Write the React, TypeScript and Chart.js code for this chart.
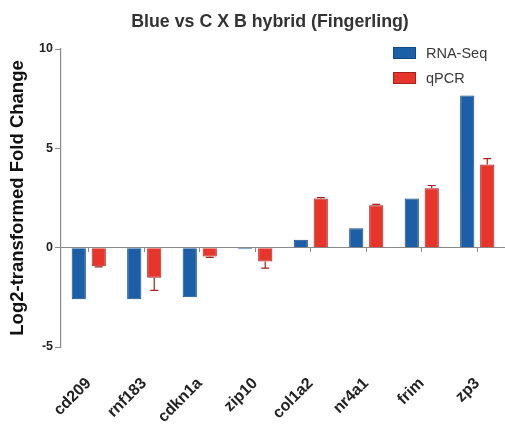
import React, { useEffect, useRef } from 'react';
import { Chart, registerables } from 'chart.js';

Chart.register(...registerables);

// Labels and data
const chartTitle = 'Blue vs C X B hybrid (Fingerling)';
const yAxisTitle = 'Log2-transformed Fold Change';
const genes = ['cd209', 'rnf183', 'cdkn1a', 'zip10', 'col1a2', 'nr4a1', 'frim', 'zp3'];
const seriesNames = ['RNA-Seq', 'qPCR'];
const rnaSeqValues = [-2.6, -2.6, -2.5, -0.08, 0.4, 0.98, 2.48, 7.66];
const qpcrValues = [-0.93, -1.52, -0.45, -0.7, 2.47, 2.14, 2.99, 4.18];
const qpcrErrors = [0.04, 0.63, 0.04, 0.33, 0.05, 0.04, 0.14, 0.3];
const yMin = -5;
const yMax = 10;
const yStep = 5;

const BLUE = '#1d5fa7';
const BLUE_EDGE = '#124a86';
const RED = '#e8352c';
const RED_EDGE = '#a3231d';
const AXIS = '#8a8a8a';
const FONT = "'Liberation Sans', Arial, Helvetica, sans-serif";

// Draws one-sided error bars (away from zero) with caps
const errorBarPlugin = {
  id: 'errorBars',
  afterDatasetsDraw(chart: any) {
    const ctx = chart.ctx;
    const yScale = chart.scales.y;
    chart.data.datasets.forEach((ds: any, di: number) => {
      const errs: number[] | undefined = ds.errors;
      if (!errs) return;
      const meta = chart.getDatasetMeta(di);
      meta.data.forEach((bar: any, i: number) => {
        const v = ds.data[i] as number;
        const e = errs[i];
        if (!e) return;
        const end = yScale.getPixelForValue(v + Math.sign(v) * e);
        ctx.save();
        ctx.strokeStyle = ds.errorColor;
        ctx.lineWidth = 1.2;
        ctx.beginPath();
        ctx.moveTo(bar.x, bar.y);
        ctx.lineTo(bar.x, end);
        ctx.moveTo(bar.x - 4, end);
        ctx.lineTo(bar.x + 4, end);
        ctx.stroke();
        ctx.restore();
      });
    });
  },
};

function Legend() {
  const colors = [
    [BLUE, BLUE_EDGE],
    [RED, RED_EDGE],
  ];
  return (
    <div style={{ position: 'absolute', left: 393, top: 47, fontFamily: FONT }}>
      {seriesNames.map((name, i) => (
        <div key={name} style={{ display: 'flex', alignItems: 'center', height: 12, marginBottom: 13 }}>
          <div
            style={{
              width: 21,
              height: 10,
              background: colors[i][0],
              border: `1px solid ${colors[i][1]}`,
              marginRight: 10,
            }}
          />
          <span style={{ fontSize: 14.5, color: '#3a3a3a', lineHeight: '12px' }}>{name}</span>
        </div>
      ))}
    </div>
  );
}

export default function App() {
  const canvasRef = useRef<HTMLCanvasElement | null>(null);

  useEffect(() => {
    if (!canvasRef.current) return;
    const chart = new Chart(canvasRef.current, {
      type: 'bar',
      data: {
        labels: genes,
        datasets: [
          {
            label: seriesNames[0],
            data: rnaSeqValues,
            backgroundColor: BLUE,
            borderColor: BLUE_EDGE,
            borderWidth: 1,
            categoryPercentage: 0.72,
            barPercentage: 0.71,
          },
          {
            label: seriesNames[1],
            data: qpcrValues,
            backgroundColor: RED,
            borderColor: RED_EDGE,
            borderWidth: 1,
            categoryPercentage: 0.72,
            barPercentage: 0.71,
            errors: qpcrErrors,
            errorColor: RED_EDGE,
          } as any,
        ],
      },
      options: {
        animation: false,
        responsive: true,
        maintainAspectRatio: false,
        layout: { padding: { top: 49, left: 0, right: 0, bottom: 0 } },
        font: { family: FONT },
        plugins: {
          legend: { display: false },
          tooltip: { enabled: false },
          title: { display: false },
        },
        scales: {
          x: {
            type: 'category',
            position: 'bottom',
            offset: true,
            grid: { display: false, drawTicks: false },
            border: { display: false },
            ticks: {
              minRotation: 45,
              maxRotation: 45,
              autoSkip: false,
              padding: 27,
              color: '#222',
              font: { family: FONT, size: 16, weight: 'bold' },
            },
            afterFit(scale: any) {
              scale.height = 83;
              scale.paddingLeft = 0;
              scale.paddingRight = 0;
            },
          },
          xZero: {
            type: 'category',
            position: { y: 0 } as any,
            offset: true,
            grid: {
              display: true,
              drawOnChartArea: false,
              offset: false,
              drawTicks: true,
              tickLength: 4,
              color: AXIS,
            },
            border: { display: true, color: AXIS, width: 1 },
            ticks: { display: false },
            afterFit(scale: any) {
              scale.paddingLeft = 0;
              scale.paddingRight = 0;
            },
          },
          y: {
            type: 'linear',
            min: yMin,
            max: yMax,
            grid: { drawOnChartArea: false, drawTicks: true, tickLength: 6, color: AXIS },
            border: { display: true, color: AXIS, width: 1.2 },
            ticks: {
              stepSize: yStep,
              padding: 2,
              color: '#222',
              font: { family: FONT, size: 12.5, weight: 'bold' },
            },
            title: {
              display: true,
              text: yAxisTitle,
              color: '#111',
              font: { family: FONT, size: 18.5, weight: 'bold' },
              padding: { top: 7, bottom: 0 },
            },
            afterFit(scale: any) {
              scale.width = 61;
            },
          },
        },
      } as any,
      plugins: [errorBarPlugin],
    });
    return () => chart.destroy();
  }, []);

  return (
    <div style={{ position: 'absolute', left: 0, top: 0, width: 505, height: 430, background: '#fff' }}>
      <div
        style={{
          position: 'absolute',
          left: 0,
          width: 540,
          top: 11,
          textAlign: 'center',
          fontFamily: FONT,
          fontWeight: 'bold',
          fontSize: 17.8,
          lineHeight: '20px',
          color: '#333',
          whiteSpace: 'nowrap',
        }}
      >
        {chartTitle}
      </div>
      <canvas ref={canvasRef} />
      <Legend />
    </div>
  );
}
